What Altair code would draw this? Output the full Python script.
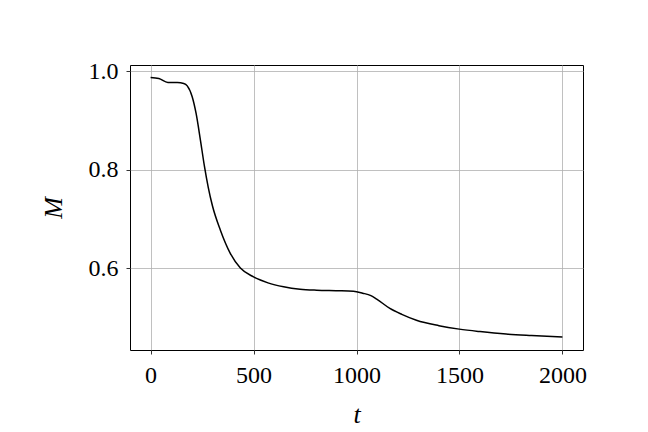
import altair as alt
import pandas as pd

t_vals = [0, 40, 84, 130, 161, 178, 202, 221, 242, 261, 280, 300, 339, 387, 436, 500, 570, 646, 726, 807, 900, 985, 1030, 1070, 1098, 1162, 1220, 1291, 1400, 1499, 1600, 1727, 1850, 2000]
M_vals = [0.987, 0.985, 0.977, 0.977, 0.975, 0.970, 0.948, 0.914, 0.860, 0.808, 0.764, 0.727, 0.677, 0.630, 0.600, 0.582, 0.570, 0.562, 0.557, 0.555, 0.554, 0.553, 0.549, 0.544, 0.537, 0.518, 0.506, 0.494, 0.483, 0.476, 0.471, 0.466, 0.463, 0.460]

df = pd.DataFrame({"t": t_vals, "M": M_vals})

FONT = "'Liberation Serif', 'Times New Roman', serif"

chart = alt.Chart(df).mark_line(color="black", strokeWidth=1.5, interpolate="monotone").encode(
    x=alt.X("t:Q", scale=alt.Scale(domain=[-100, 2100], nice=False, zero=False),
            axis=alt.Axis(values=[0, 500, 1000, 1500, 2000], title="t", format="d",
                          titleFontStyle="italic", titleFontWeight="normal")),
    y=alt.Y("M:Q", scale=alt.Scale(domain=[0.4336, 1.0124], nice=False, zero=False),
            axis=alt.Axis(values=[0.6, 0.8, 1.0], title="M", format=".1f",
                          titleFontStyle="italic", titleFontWeight="normal")),
).properties(
    width=453, height=285,
    autosize=alt.AutoSizeParams(type="none"),
    padding={"left": 122, "top": 57, "right": 57, "bottom": 82},
).configure_view(
    stroke="black", strokeWidth=1
).configure_axis(
    grid=True, gridColor="#b0b0b0", gridWidth=0.8,
    domain=False, tickColor="black", tickSize=4, tickWidth=0.8,
    labelFont=FONT, labelFontSize=24, labelColor="black",
    titleFont=FONT, titleFontSize=26, titleColor="black",
).configure_axisX(
    labelPadding=9, titlePadding=14,
).configure_axisY(
    labelPadding=8, titlePadding=22,
)

chart.save("out.html", embed_options={"renderer": "svg", "actions": False})
